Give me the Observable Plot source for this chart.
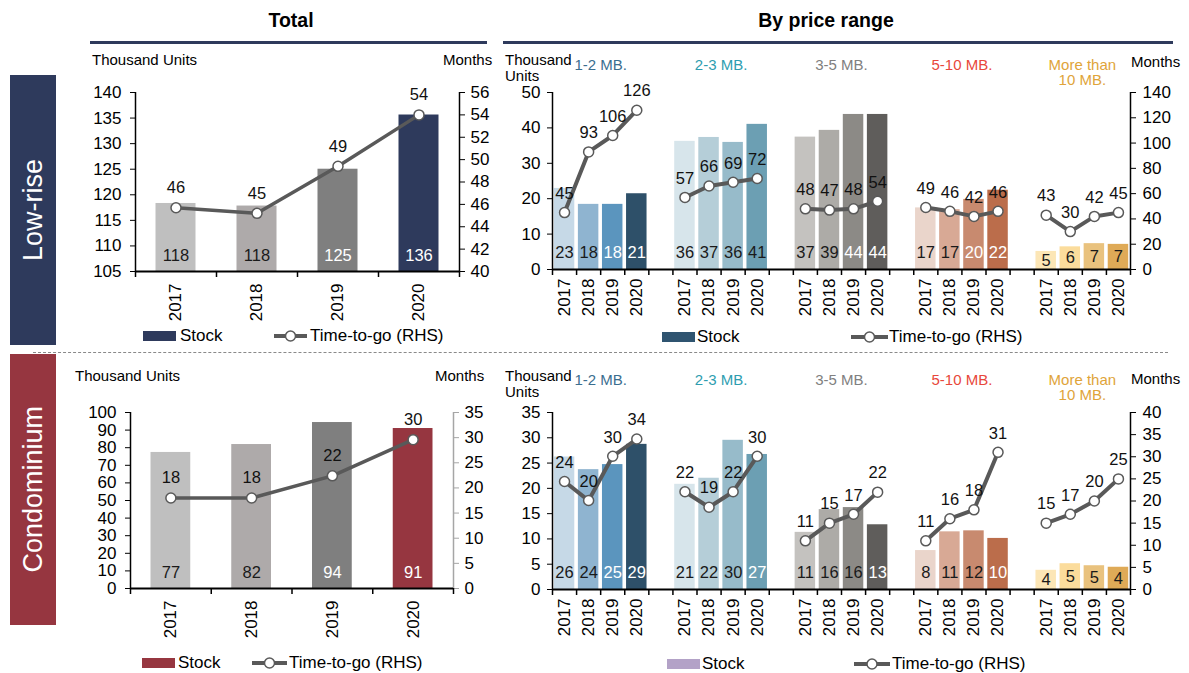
<!DOCTYPE html>
<html><head><meta charset="utf-8">
<script src="https://cdn.jsdelivr.net/npm/d3@7"></script>
<script src="https://cdn.jsdelivr.net/npm/@observablehq/plot@0.6"></script>
<style>
body{margin:0;background:#fff;font-family:"Liberation Sans",Arial,sans-serif;color:#000;}
#root{position:relative;width:1189px;height:673px;overflow:hidden;background:#fff;}
.abs{position:absolute;white-space:nowrap;}
.hdr{font-weight:bold;font-size:19.5px;line-height:22px;text-align:center;}
.rule{background:#2e3a5c;height:3px;}
.side{color:#fff;font-size:27px;display:flex;align-items:center;justify-content:center;}
.side span{writing-mode:vertical-rl;transform:rotate(180deg);}
.unit{font-size:15px;line-height:16px;color:#000;}
.leg{font-size:17px;line-height:20px;}
.plotbox{position:absolute;}
</style></head><body><div id="root"></div>
<script>
// ---------- data ----------
const years = ["2017", "2018", "2019", "2020"];
const totalLowriseStock = [118.3, 117.8, 125.0, 135.6];
const totalLowriseTimeToGo = [45.7, 45.2, 49.4, 54.0];
const totalCondoStock = [77.3, 81.8, 94.3, 90.9];
const totalCondoTimeToGo = [18.0, 18.0, 22.4, 29.6];
const priceRanges = ["1-2 MB.", "2-3 MB.", "3-5 MB.", "5-10 MB.", "More than\n10 MB."];
const lowriseStock12 = [22.9, 18.4, 18.4, 21.4];
const lowriseStock23 = [36.2, 37.3, 35.9, 41.0];
const lowriseStock35 = [37.4, 39.3, 43.8, 43.8];
const lowriseStock510 = [17.4, 16.9, 19.8, 22.4];
const lowriseStock10 = [5.1, 6.4, 7.3, 7.1];
const lowriseTtg12 = [45, 93, 106, 126];
const lowriseTtg23 = [57, 66, 69, 72];
const lowriseTtg35 = [48, 47, 48, 54];
const lowriseTtg510 = [49, 46, 42, 46];
const lowriseTtg10 = [43, 30, 42, 45];
const condoStock12 = [26.2, 23.7, 24.7, 28.7];
const condoStock23 = [20.8, 22.0, 29.5, 26.7];
const condoStock35 = [11.3, 15.8, 16.2, 12.8];
const condoStock510 = [7.7, 11.4, 11.6, 10.1];
const condoStock10 = [3.8, 5.1, 4.7, 4.4];
const condoTtg12 = [24.4, 20.1, 30.1, 34.0];
const condoTtg23 = [22.1, 18.6, 22.1, 30.1];
const condoTtg35 = [11, 15, 17, 22];
const condoTtg510 = [11, 16, 18, 31];
const condoTtg10 = [15, 17, 20, 25];

// ---------- styles ----------
const FONT = '"Liberation Sans", Arial, sans-serif';
const LINE = "#595959";
const DARK = "#1a1a1a", WHITE = "#ffffff";
const totalLowColors = ["#bfbfbf", "#aeaaaa", "#7f7f7f", "#2e3a5c"];
const totalCondoColors = ["#bfbfbf", "#aeaaaa", "#7f7f7f", "#963640"];
const totalLowLabel = [DARK, DARK, WHITE, WHITE];
const totalCondoLabel = [DARK, DARK, WHITE, WHITE];
const groupColors = [
  ["#c6d9e7", "#8fb4d0", "#5b95be", "#2e5069"],
  ["#d7e5eb", "#b5ced8", "#97bbca", "#6c9fb3"],
  ["#c4c2bf", "#adaba7", "#8c8a86", "#5f5d5b"],
  ["#ead5cb", "#d8a995", "#c88a6f", "#bb6d4b"],
  ["#fce6b6", "#fbdc9c", "#e9c27e", "#dfaa57"]
];
const rangeColors = ["#3b6e8f", "#2e9db0", "#808080", "#e8473b", "#e0a43a"];
const D = DARK, W = WHITE;
const lowLabelColors = [[D, D, W, W], [D, D, D, D], [D, D, W, W], [D, D, W, W], [D, D, D, D]];
const condoLabelColors = [[D, D, W, W], [D, D, D, W], [D, D, D, W], [D, D, D, W], [D, D, D, D]];

const root = document.getElementById("root");
function add(html, cls, css) {
  const d = document.createElement("div");
  d.className = "abs " + (cls || "");
  d.style.cssText = css;
  d.innerHTML = html;
  root.appendChild(d);
  return d;
}
function place(svg, left, top) {
  const d = document.createElement("div");
  d.className = "plotbox";
  d.style.left = left + "px"; d.style.top = top + "px";
  d.appendChild(svg);
  root.appendChild(d);
}

function totalChart(o) {
  const [y0, y1] = o.yDomain, [m0, m1] = o.y2Domain;
  const toY = m => y0 + (m - m0) * (y1 - y0) / (m1 - m0);
  const fromY = v => m0 + (v - y0) * (m1 - m0) / (y1 - y0);
  const bars = o.stock.map((v, i) => ({i, v, fill: o.barColors[i], lab: o.labelColors[i]}));
  const pts = o.ttg.map((m, i) => ({i, m, y: toY(m)}));
  return Plot.plot({
    width: 420, height: 295,
    marginLeft: 55, marginRight: o.marginRight, marginTop: 47, marginBottom: o.marginBottom,
    style: {fontFamily: FONT, fontSize: "17px", color: "#000", background: "transparent", overflow: "visible"},
    x: {domain: [0, 4], axis: null, label: null},
    y: {domain: o.yDomain, axis: null, label: null},
    color: {type: "identity"},
    marks: [
      Plot.rect(bars, {x1: "i", x2: d => d.i + 1, y1: y0, y2: "v", fill: "fill", insetLeft: 20.5, insetRight: 20.5}),
      Plot.ruleX([0], {stroke: "#000", strokeWidth: 1.5}),
      Plot.ruleX([4], {stroke: o.rightColor, strokeWidth: 1.5}),
      Plot.ruleY([y0], {stroke: "#000", strokeWidth: 1.8}),
      Plot.axisY({ticks: d3.range(y0, y1 + 0.001, o.yStep), anchor: "left", label: null, tickSize: 5, tickPadding: 9, fontSize: 17, stroke: "#000"}),
      Plot.axisY({ticks: d3.range(m0, m1 + 0.001, o.y2Step).map(toY), anchor: "right", label: null, tickSize: 5, tickPadding: 6, fontSize: 17,
        stroke: o.rightColor, tickFormat: v => Math.round(fromY(v))}),
      Plot.axisX({ticks: d3.range(0, 5), anchor: "bottom", label: null, tickSize: 6, tickFormat: () => "", stroke: "#000", strokeWidth: 1.5}),
      Plot.axisX({ticks: [0.5, 1.5, 2.5, 3.5], anchor: "bottom", label: null, tickSize: 0, tickPadding: 12, tickRotate: -90, fontSize: 17,
        tickFormat: v => years[Math.floor(v)]}),
      Plot.line(pts, {x: d => d.i + 0.5, y: "y", stroke: LINE, strokeWidth: 3.5}),
      Plot.dot(pts, {x: d => d.i + 0.5, y: "y", r: 5, fill: "white", stroke: LINE, strokeWidth: 1.5}),
      Plot.text(pts, {x: d => d.i + 0.5, y: "y", text: d => Math.round(d.m), dy: -20, fontSize: 16.5, fill: "#111"}),
      Plot.text(bars, {x: d => d.i + 0.5, y: y0, dy: -16, text: d => Math.round(d.v), fill: "lab", fontSize: 16.5})
    ]
  });
}

function priceChart(o) {
  const yMax = o.yMax, mMax = o.y2Max, k = yMax / mMax;
  const bars = [], pts = [];
  o.stock.forEach((arr, g) => arr.forEach((v, i) => bars.push({g, i, s: g * 5 + i, v, fill: groupColors[g][i], lab: o.labelColors[g][i]})));
  o.ttg.forEach((arr, g) => arr.forEach((m, i) => pts.push({g, i, s: g * 5 + i, m, y: m * k})));
  const lblY = yMax * 17 / 177;
  return Plot.plot({
    width: 690, height: 295,
    marginLeft: 62, marginRight: 50, marginTop: 47, marginBottom: 71,
    style: {fontFamily: FONT, fontSize: "17px", color: "#000", background: "transparent", overflow: "visible"},
    x: {domain: [0, 24], axis: null, label: null},
    y: {domain: [0, yMax], axis: null, label: null},
    color: {type: "identity"},
    marks: [
      Plot.rect(bars, {x1: "s", x2: d => d.s + 1, y1: 0, y2: "v", fill: "fill", insetLeft: 1.8, insetRight: 1.8}),
      Plot.ruleX([0], {stroke: "#000", strokeWidth: 1.5}),
      Plot.ruleX([24], {stroke: "#000", strokeWidth: 1.5}),
      Plot.ruleY([0], {stroke: "#000", strokeWidth: 1.8}),
      Plot.axisY({ticks: d3.range(0, yMax + 0.001, o.yStep), anchor: "left", label: null, tickSize: 5, tickPadding: 7, fontSize: 17, stroke: "#000"}),
      Plot.axisY({ticks: d3.range(0, mMax + 0.001, o.y2Step).map(m => m * k), anchor: "right", label: null, tickSize: 5, tickPadding: 7, fontSize: 17,
        stroke: "#000", tickFormat: v => Math.round(v / k)}),
      Plot.axisX({ticks: d3.range(0, 25), anchor: "bottom", label: null, tickSize: 6, tickFormat: () => "", stroke: "#000", strokeWidth: 1.5}),
      Plot.axisX({ticks: bars.map(d => d.s + 0.5), anchor: "bottom", label: null, tickSize: 0, tickPadding: 9, tickRotate: -90, fontSize: 17,
        tickFormat: v => years[Math.floor(v) % 5]}),
      Plot.line(pts, {x: d => d.s + 0.5, y: "y", z: "g", stroke: LINE, strokeWidth: 4}),
      Plot.dot(pts, {x: d => d.s + 0.5, y: "y", r: 5, fill: "white", stroke: LINE, strokeWidth: 1.5}),
      Plot.text(pts, {x: d => d.s + 0.5, y: "y", text: d => Math.round(d.m), dy: -19, fontSize: 16.5, fill: "#111"}),
      Plot.text(bars, {x: d => d.s + 0.5, y: d => Math.min(d.v / 2, lblY), text: d => Math.round(d.v), fill: "lab", fontSize: 16.5}),
      Plot.text(priceRanges, {x: (d, i) => i * 5 + 2, y: yMax, dy: o.groupDy, lineAnchor: "top", fontSize: 15,
        fill: (d, i) => rangeColors[i]})
    ]
  });
}

// ---------- headers & frames ----------
add("Total", "hdr", "left:95px;top:9px;width:392px;");
add("", "rule", "left:90px;top:41px;width:397px;");
add("By price range", "hdr", "left:503px;top:9px;width:646px;");
add("", "rule", "left:503px;top:41px;width:670px;");
add("<span>Low-rise</span>", "side", "left:10px;top:75px;width:46px;height:270px;background:#2e3a5c;");
add("<span>Condominium</span>", "side", "left:10px;top:354px;width:46px;height:271px;background:#963640;");
add("", "", "left:33px;top:352px;width:1135px;height:0;border-top:1px dashed #8a8a8a;");

// axis titles
add("Thousand Units", "unit", "left:92px;top:52px;");
add("Months", "unit", "left:443px;top:52px;");
add("Thousand<br>Units", "unit", "left:505px;top:52px;");
add("Months", "unit", "left:1131px;top:54px;");
add("Thousand Units", "unit", "left:75px;top:368px;");
add("Months", "unit", "left:435px;top:368px;");
add("Thousand<br>Units", "unit", "left:505px;top:368px;");
add("Months", "unit", "left:1131px;top:371px;");

// ---------- charts ----------
place(totalChart({stock: totalLowriseStock, ttg: totalLowriseTimeToGo, yDomain: [105, 140], y2Domain: [40, 56], yStep: 5, y2Step: 2,
  barColors: totalLowColors, labelColors: totalLowLabel, marginRight: 41, marginBottom: 69, rightColor: "#000"}), 80, 45);
place(totalChart({stock: totalCondoStock, ttg: totalCondoTimeToGo, yDomain: [0, 100], y2Domain: [0, 35], yStep: 10, y2Step: 5,
  barColors: totalCondoColors, labelColors: totalCondoLabel, marginRight: 42, marginBottom: 72, rightColor: "#a6a6a6"}), 75, 365);
place(priceChart({stock: [lowriseStock12, lowriseStock23, lowriseStock35, lowriseStock510, lowriseStock10],
  ttg: [lowriseTtg12, lowriseTtg23, lowriseTtg35, lowriseTtg510, lowriseTtg10],
  yMax: 50, yStep: 10, y2Max: 140, y2Step: 20, labelColors: lowLabelColors, groupDy: -33}), 490, 45);
place(priceChart({stock: [condoStock12, condoStock23, condoStock35, condoStock510, condoStock10],
  ttg: [condoTtg12, condoTtg23, condoTtg35, condoTtg510, condoTtg10],
  yMax: 35, yStep: 5, y2Max: 40, y2Step: 5, labelColors: condoLabelColors, groupDy: -38}), 490, 365);

// ---------- legends ----------
function legend(rectX, cy, color, stockX, lineX, lineW, textX) {
  add("", "", `left:${rectX}px;top:${cy - 5}px;width:33px;height:10px;background:${color};`);
  add("Stock", "leg", `left:${stockX}px;top:${cy - 10}px;`);
  add(`<svg width="${lineW}" height="14"><line x1="0" y1="7" x2="${lineW}" y2="7" stroke="${LINE}" stroke-width="4"/><circle cx="${lineW / 2}" cy="7" r="5" fill="#fff" stroke="${LINE}" stroke-width="1.5"/></svg>`,
    "", `left:${lineX}px;top:${cy - 7}px;height:14px;line-height:0;`);
  add("Time-to-go (RHS)", "leg", `left:${textX}px;top:${cy - 10}px;`);
}
legend(143, 336, "#2e3a5c", 180, 274, 33, 310);
legend(142, 663, "#963640", 178, 252, 35, 289);
legend(662, 337, "#2f5470", 697, 851, 37, 889);
legend(667, 664, "#b3a2c7", 702, 854, 36, 892);
</script></body></html>
